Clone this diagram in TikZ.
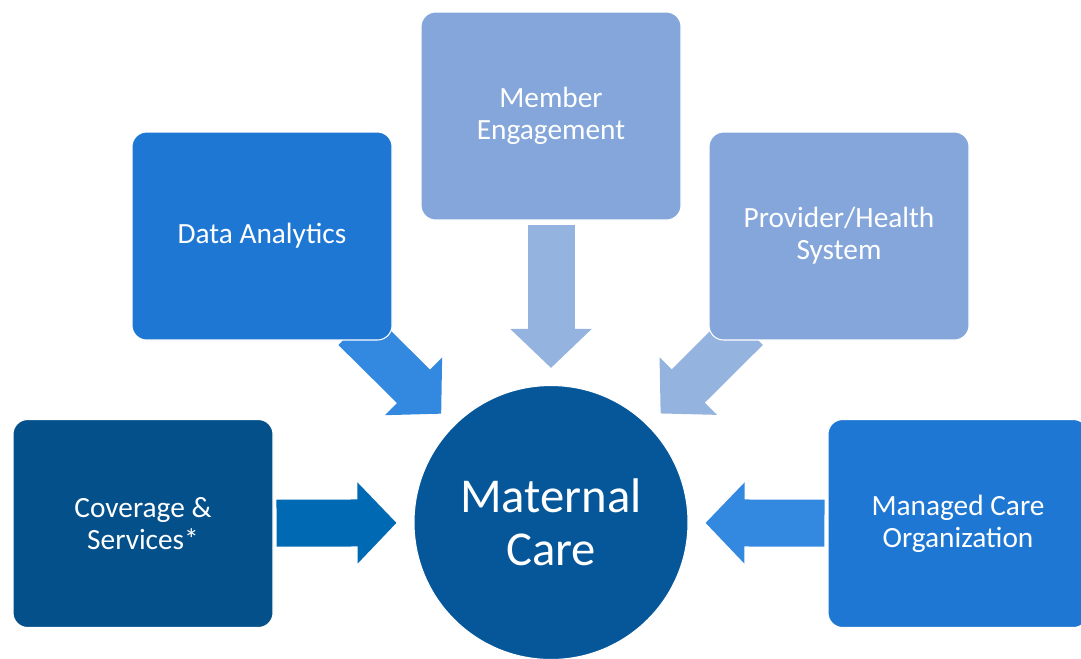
\documentclass[tikz,border=0pt]{standalone}
\usepackage{fontspec}
\setmainfont{Carlito}
\usetikzlibrary{arrows.meta,backgrounds}
\definecolor{coverblue}{RGB}{4,80,138}
\definecolor{carecircle}{RGB}{5,87,153}
\definecolor{midblue}{RGB}{31,119,212}
\definecolor{paleblue}{RGB}{132,166,218}
\definecolor{arrowdeep}{RGB}{0,105,180}
\definecolor{arrowbright}{RGB}{51,136,224}
\definecolor{arrowpale}{RGB}{149,179,223}

\begin{document}
\begin{tikzpicture}[x=0.75pt, y=-0.75pt,
    box/.style={rectangle, rounded corners=11pt, draw=white, line width=0.8pt,
      minimum width=195pt, minimum height=156pt, text=white, align=center,
      font=\fontsize{22}{24}\selectfont},
    fat/.style={line width=35.25pt, -{Triangle[length=29.25pt,width=59.25pt]},
      shorten >=12.75pt}]
  \useasboundingbox (0,0) rectangle (1081,658);
  % the hub
  \node[circle, fill=carecircle, draw=white, line width=0.8pt, minimum size=205.5pt,
    inner sep=0pt, text=white, align=center, font=\fontsize{36.5}{40}\selectfont]
    (mc) at (551,522.5) {Maternal\\Care};
  % the five inputs
  \node[box, fill=coverblue] (cov) at (143,523.5) {Coverage \&\\Services*};
  \node[box, fill=midblue] (da) at (262,236) {Data Analytics};
  \node[box, fill=paleblue] (me) at (551,116) {Member\\Engagement};
  \node[box, fill=paleblue] (pv) at (839,236) {Provider/Health\\System};
  \node[box, fill=midblue] (mco) at (958,523.5) {Managed Care\\Organization};
  % block arrows
  \begin{scope}[on background layer]
    \draw[fat, draw=arrowdeep, shorten <=2.25pt] (cov) -- (mc);
    \draw[fat, draw=arrowpale, shorten <=3pt] (me) -- (mc);
    \draw[fat, draw=arrowbright, shorten <=2.25pt] (mco) -- (mc);
    \draw[fat, draw=arrowbright, shorten <=-13pt] (da) -- (mc);
    \draw[fat, draw=arrowpale, shorten <=-13pt] (pv) -- (mc);
  \end{scope}
\end{tikzpicture}
\end{document}
